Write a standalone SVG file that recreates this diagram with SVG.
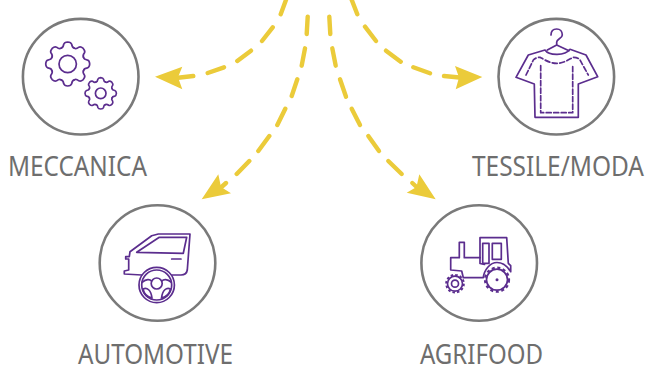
<svg xmlns="http://www.w3.org/2000/svg" xmlns:xlink="http://www.w3.org/1999/xlink" width="646" height="365" viewBox="0 0 646 365">
<style>
.ring{fill:none;stroke:#7a7a7a;stroke-width:2.6}
.ic{fill:none;stroke:#5b2d8e;stroke-width:1.7;stroke-linejoin:round;stroke-linecap:round}
.nss{vector-effect:non-scaling-stroke}
.dash{fill:none;stroke:#ebcb3a;stroke-width:4.4;stroke-linecap:round}
.head{fill:#ebcb3a}
.lbl{font-family:"Noto Sans","Open Sans","Liberation Sans",sans-serif;font-size:28px;fill:#6e6e6e}
</style>
<defs>
<path id="t" class="ic nss" d="M-.298-.72Q-.2-.74-.18-.9Q-.15-.99 0-1Q.15-.99.18-.9Q.2-.74.298-.72"/>
<g id="gear">
<use xlink:href="#t"/><use xlink:href="#t" transform="rotate(45)"/><use xlink:href="#t" transform="rotate(90)"/><use xlink:href="#t" transform="rotate(135)"/><use xlink:href="#t" transform="rotate(180)"/><use xlink:href="#t" transform="rotate(225)"/><use xlink:href="#t" transform="rotate(270)"/><use xlink:href="#t" transform="rotate(315)"/>
</g>
</defs>
<g id="connectors">
<path class="dash" d="M286.7-2L280.7 14.3M272.7 27.3L262 41M251 50.7L237.3 61M224 67.3L207.7 73M193.3 76L178 77.7"/>
<polygon class="head" points="155,76.7 182.3,66.7 178,77.2 182.3,89.3"/>
<path class="dash" d="M351-2L357.3 14.3M365 26.7L376 41M386 50.7L400.7 61.7M413.3 67.3L430 73.3M444 76L462 77.7"/>
<polygon class="head" points="482.3,77 455,66 459,77.4 455.7,89.3"/>
<path class="dash" d="M307.7 16.7L306.7 34M305 48.3L301.7 65.7M297.3 79.3L291.7 96M285.3 108.7L277.3 125M269.3 136L258.3 151M249.3 161L236.7 174M226 183L216 192"/>
<polygon class="head" points="201.7,199.3 218.3,174.3 221,187 231,193.3"/>
<path class="dash" d="M329.3 16.7L330.3 34M332.3 48.3L335.7 65.7M340 79.3L346 96.7M351.7 108.7L360 125M368.3 136L379 151M388.3 161L401.7 174M412.3 183L422 192"/>
<polygon class="head" points="435.7,199.3 419.3,174.3 416.5,187 406.7,192.7"/>
</g>
<g id="meccanica">
<circle class="ring" cx="80.7" cy="76.7" r="57.8"/>
<use xlink:href="#gear" transform="translate(67.7 64) scale(22)"/>
<circle class="ic" cx="67.7" cy="64" r="8.7"/>
<use xlink:href="#gear" transform="translate(100.7 93.3) scale(15.7)"/>
<circle class="ic" cx="100.7" cy="93.3" r="5.3"/>
<text class="lbl" x="8" y="175.5" textLength="139" lengthAdjust="spacingAndGlyphs">MECCANICA</text>
</g>
<g id="tessile">
<circle class="ring" cx="556.3" cy="76.7" r="57.8"/>
<path class="ic" d="M551 35C551 31 553.5 29 556.7 29C560 29 562.3 31.5 562.3 35C562.3 38.5 556.7 39 556.7 42V45L547.3 50M556.7 45L569 50.7"/>
<path class="ic" d="M545 50L528.3 55L516 77.3L534.3 84L535 117.3H578.3V84L597.7 76.7L586 55L570 49.3C565 56 549 56 545 50Z"/>
<path class="ic" stroke-dasharray="5 2.5" d="M526 75L533.3 60C535 58 538 57.3 540 57.3C545 60 550 63.3 556.7 63.3C563 63.3 568 60 573.3 57.3C576 57.3 578.500 58 580 60L588.3 75"/>
<path class="ic" stroke-dasharray="5 2.5" d="M540.7 65.7V112.7H572.7V65.7"/>
<text class="lbl" x="472" y="175.5" textLength="172" lengthAdjust="spacingAndGlyphs">TESSILE/MODA</text>
</g>
<g id="automotive">
<circle class="ring" cx="157.5" cy="263" r="57.8"/>
<path class="ic" d="M141.7 275L124.3 274V271L128.7 270V259H125.7V256.7H129.3L130 251.7L151.7 235.7L158.3 234H190L187.3 270Q186.5 275 181 275H172"/>
<path class="ic" d="M186.7 237.3H159.3L136.7 252.3L183.3 253.3Z"/>
<path class="ic" stroke-width="2" d="M171.7 259H181"/>
<circle class="ic" cx="156.7" cy="285" r="17.7"/>
<circle class="ic" cx="156.7" cy="285" r="15"/>
<circle class="ic" cx="156.7" cy="283.5" r="5.5"/>
<path class="ic" d="M142.5 282C146 279 150 279 151.5 281M161.9 281C163.5 279 167.5 279 171 282"/>
<path class="ic" d="M143 289C147 287 151 290 152 298C147 297 144 294 143 289ZM170.5 289C166.5 287 162.5 290 161.5 298C166.5 297 169.5 294 170.5 289Z"/>
<text class="lbl" x="78" y="364" textLength="155" lengthAdjust="spacingAndGlyphs">AUTOMOTIVE</text>
</g>
<g id="agrifood">
<circle class="ring" cx="479.2" cy="263" r="57.8"/>
<path class="ic" d="M483.3 277.7H463.3L461.7 271L450.7 270V257.7H459.3V242.3H464.3V257.7H480V237.7H506.7L508.3 263.3L510.7 265.7V271.700C506 264 501 262.5 497 262.5C490 262.5 484 270 483.3 277.7Z"/>
<path class="ic" d="M482.7 243.3H489V263.3H482.7ZM492.3 243.3H501.3V259.3H492.3Z"/>
<path class="ic" d="M480 257.7V263.5L484.5 264.5"/>
<circle class="ic" cx="497" cy="279.7" r="10.5"/>
<circle cx="497" cy="279.7" r="12" fill="none" stroke="#5b2d8e" stroke-width="2.2" stroke-dasharray="3 2.65"/>
<circle cx="497" cy="279.7" r="1.5" fill="#5b2d8e"/>
<circle class="ic" cx="455" cy="283.7" r="3.5"/>
<circle class="ic" cx="455" cy="283.7" r="7.5"/>
<circle cx="455" cy="283.7" r="8.8" fill="none" stroke="#5b2d8e" stroke-width="2" stroke-dasharray="2.5 2.1"/>
<text class="lbl" x="420" y="364" textLength="123" lengthAdjust="spacingAndGlyphs">AGRIFOOD</text>
</g>
</svg>
